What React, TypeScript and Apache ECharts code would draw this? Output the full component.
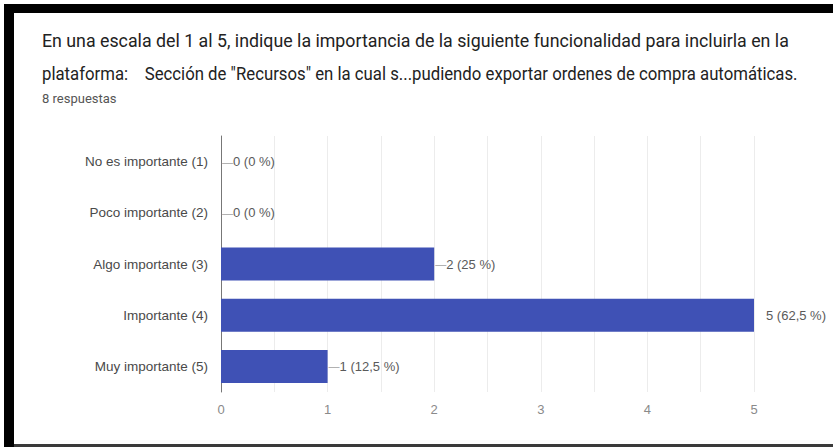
import React, { useEffect, useRef } from "react";
import * as echarts from "echarts";

const titleLine1 = "En una escala del 1 al 5, indique la importancia de la siguiente funcionalidad para incluirla en la";
const titleLine2 = "plataforma:    Sección de \"Recursos\" en la cual s...pudiendo exportar ordenes de compra automáticas.";
const subtitle = "8 respuestas";
const categories = ["No es importante (1)", "Poco importante (2)", "Algo importante (3)", "Importante (4)", "Muy importante (5)"];
const counts = [0, 0, 2, 5, 1];
const percents = ["0 %", "0 %", "25 %", "62,5 %", "12,5 %"];
const xTicks = [0, 1, 2, 3, 4, 5];

const LABEL_FONT = "'Liberation Sans', Arial, sans-serif";

export default function App() {
  const ref = useRef<HTMLDivElement>(null);
  useEffect(() => {
    if (!ref.current) return;
    const chart = echarts.init(ref.current, null, { renderer: "svg" });
    const maxVal = xTicks[xTicks.length - 1];
    const data = counts.map((v, i) => {
      const atMax = v === maxVal;
      return {
        value: v,
        label: {
          show: true,
          position: "right",
          distance: atMax ? 12 : 1,
          formatter: atMax ? `{t|${v} (${percents[i]})}` : `{d|—}{t|${v} (${percents[i]})}`,
          rich: {
            d: { color: "#a0a0a0", fontSize: 11, fontFamily: LABEL_FONT },
            t: { color: "#5a5a5a", fontSize: 13, fontFamily: LABEL_FONT },
          },
        },
      };
    });
    chart.setOption({
      animation: false,
      backgroundColor: "#fff",
      grid: { left: 221, right: 79, top: 136, bottom: 55 },
      xAxis: {
        type: "value",
        min: 0,
        max: maxVal,
        interval: 0.5,
        axisLine: { show: false },
        axisTick: { show: false },
        splitLine: { show: true, lineStyle: { color: "#ececec", width: 1 } },
        axisLabel: {
          color: "#8a8a8a",
          fontSize: 13,
          fontFamily: LABEL_FONT,
          margin: 11,
          formatter: (v: number) => (xTicks.includes(v) ? String(v) : ""),
        },
      },
      yAxis: {
        type: "category",
        data: categories,
        inverse: true,
        axisLine: { show: true, lineStyle: { color: "#777", width: 1 } },
        axisTick: { show: false },
        axisLabel: { color: "#4a4a4a", fontSize: 13.5, fontFamily: LABEL_FONT, margin: 13 },
      },
      series: [
        {
          type: "bar",
          data,
          barWidth: 33,
          itemStyle: { color: "#3f51b5" },
        },
      ],
      graphic: [
        { type: "rect", shape: { x: 4, y: 4, width: 829, height: 9 }, style: { fill: "#000" } },
        { type: "rect", shape: { x: 4, y: 4, width: 10, height: 443 }, style: { fill: "#000" } },
        { type: "rect", shape: { x: 14, y: 444, width: 819, height: 3 }, style: { fill: "#3a3a3a" } },
        {
          type: "text",
          x: 42,
          y: 31,
          scaleX: 0.936,
          style: { text: titleLine1, fill: "#222", fontSize: 19, fontFamily: "Roboto" },
        },
        {
          type: "text",
          x: 42,
          y: 64,
          scaleX: 0.882,
          style: { text: titleLine2, fill: "#222", fontSize: 19, fontFamily: "Roboto" },
        },
        {
          type: "text",
          x: 42,
          y: 92,
          scaleX: 1,
          style: { text: subtitle, fill: "#555", fontSize: 13, fontFamily: "Roboto" },
        },
      ],
    });
    return () => chart.dispose();
  }, []);
  return (
    <div
      ref={ref}
      style={{ position: "fixed", left: 0, top: 0, width: 833, height: 447, background: "#fff" }}
    />
  );
}
